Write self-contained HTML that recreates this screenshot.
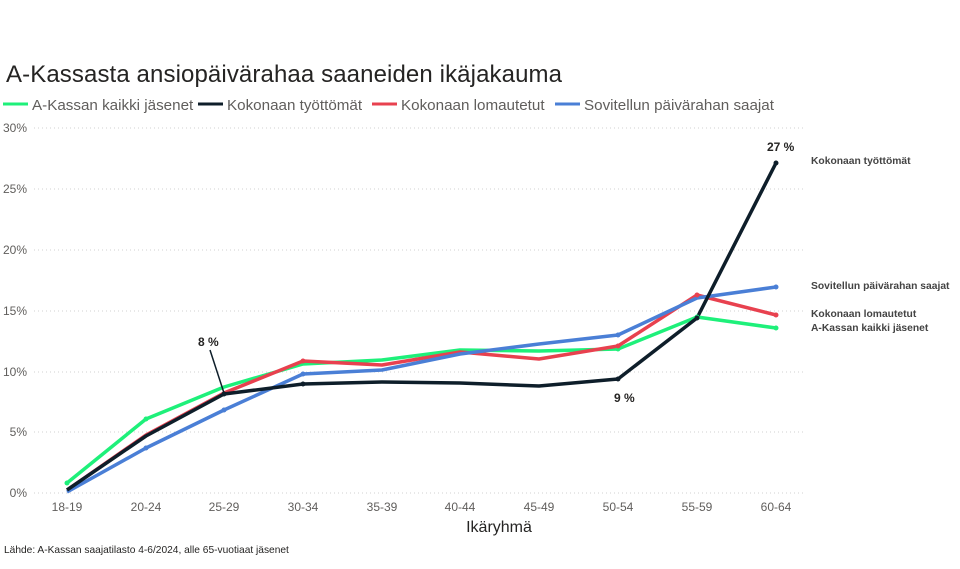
<!DOCTYPE html>
<html><head><meta charset="utf-8"><style>
body{margin:0;background:#fff;width:960px;height:564px;overflow:hidden;font-family:"Liberation Sans","DejaVu Sans",sans-serif}
</style></head><body>
<svg width="960" height="564" viewBox="0 0 960 564" xmlns="http://www.w3.org/2000/svg" font-family="Liberation Sans, DejaVu Sans, sans-serif">
<text x="6" y="82" font-size="24" fill="#252423" textLength="556">A-Kassasta ansiopäivärahaa saaneiden ikäjakauma</text>
<g font-size="15.2" fill="#605e5c">
<line x1="3" y1="104" x2="28" y2="104" stroke="#1ef07a" stroke-width="3"/><text x="32" y="110">A-Kassan kaikki jäsenet</text>
<line x1="198" y1="104" x2="223" y2="104" stroke="#0e1e2a" stroke-width="3"/><text x="227" y="110">Kokonaan työttömät</text>
<line x1="372" y1="104" x2="397" y2="104" stroke="#e8414f" stroke-width="3"/><text x="401" y="110">Kokonaan lomautetut</text>
<line x1="555" y1="104" x2="580" y2="104" stroke="#4a7fd6" stroke-width="3"/><text x="584" y="110">Sovitellun päivärahan saajat</text>
</g>
<g stroke="#d0d0d0" stroke-dasharray="1,3" stroke-width="1">
<line x1="34" y1="128" x2="805" y2="128"/><line x1="34" y1="189" x2="805" y2="189"/>
<line x1="34" y1="250" x2="805" y2="250"/><line x1="34" y1="311" x2="805" y2="311"/>
<line x1="34" y1="372" x2="805" y2="372"/><line x1="34" y1="432" x2="805" y2="432"/>
<line x1="34" y1="493" x2="805" y2="493"/>
</g>
<g font-size="12" fill="#605e5c" text-anchor="end">
<text x="27" y="132">30%</text><text x="27" y="193">25%</text><text x="27" y="254">20%</text>
<text x="27" y="315">15%</text><text x="27" y="376">10%</text><text x="27" y="436">5%</text><text x="27" y="497">0%</text>
</g>
<g font-size="12" fill="#605e5c" text-anchor="middle">
<text x="67" y="511">18-19</text><text x="146" y="511">20-24</text><text x="224" y="511">25-29</text>
<text x="303" y="511">30-34</text><text x="382" y="511">35-39</text><text x="460" y="511">40-44</text>
<text x="539" y="511">45-49</text><text x="618" y="511">50-54</text><text x="697" y="511">55-59</text><text x="776" y="511">60-64</text>
</g>
<text x="499" y="532" font-size="16" fill="#252423" text-anchor="middle">Ikäryhmä</text>
<g fill="none" stroke-width="3.5" stroke-linejoin="round">
<polyline stroke="#1ef07a" points="67,483 146,419 224,387 303,364 382,360 460,350 539,351 618,349 697,317 776,328"/>
<polyline stroke="#e8414f" points="67,490 146,435 224,393 303,361 382,365 460,352 539,359 618,346 697,295 776,315"/>
<polyline stroke="#4a7fd6" points="67,492 146,448 224,410 303,374 382,370 460,354 539,344 618,335 697,298 776,287"/>
<polyline stroke="#0e1e2a" points="67,490 146,436 224,394 303,384 382,382 460,383 539,386 618,379 697,318 776,163"/>
</g>
<g>
<g fill="#1ef07a"><circle cx="67" cy="483" r="2.5"/><circle cx="146" cy="419" r="2.5"/><circle cx="697" cy="317" r="2.5"/><circle cx="776" cy="328" r="2.5"/><circle cx="618" cy="349" r="2.5"/></g>
<g fill="#e8414f"><circle cx="303" cy="361" r="2.5"/><circle cx="697" cy="295" r="2.5"/><circle cx="776" cy="315" r="2.5"/><circle cx="618" cy="346" r="2.5"/></g>
<g fill="#4a7fd6"><circle cx="303" cy="374" r="2.5"/><circle cx="618" cy="335" r="2.5"/><circle cx="776" cy="287" r="2.5"/><circle cx="146" cy="448" r="2.5"/><circle cx="224" cy="410" r="2.5"/></g>
<g fill="#0e1e2a"><circle cx="303" cy="384" r="2.5"/><circle cx="618" cy="379" r="2.5"/><circle cx="697" cy="318" r="2.5"/><circle cx="776" cy="163" r="2.5"/><circle cx="224" cy="394" r="2.5"/></g>
</g>
<line x1="210" y1="350" x2="224" y2="393" stroke="#0e1e2a" stroke-width="1.5"/>
<g font-size="12" font-weight="bold" fill="#252423">
<text x="198" y="346">8 %</text><text x="614" y="402">9 %</text><text x="767" y="151">27 %</text>
</g>
<g font-size="10.3" font-weight="bold" fill="#444">
<text x="811" y="164">Kokonaan työttömät</text>
<text x="811" y="289">Sovitellun päivärahan saajat</text>
<text x="811" y="317">Kokonaan lomautetut</text>
<text x="811" y="331">A-Kassan kaikki jäsenet</text>
</g>
<text x="4" y="553" font-size="10.2" fill="#252423">Lähde: A-Kassan saajatilasto 4-6/2024, alle 65-vuotiaat jäsenet</text>
</svg>
</body></html>
